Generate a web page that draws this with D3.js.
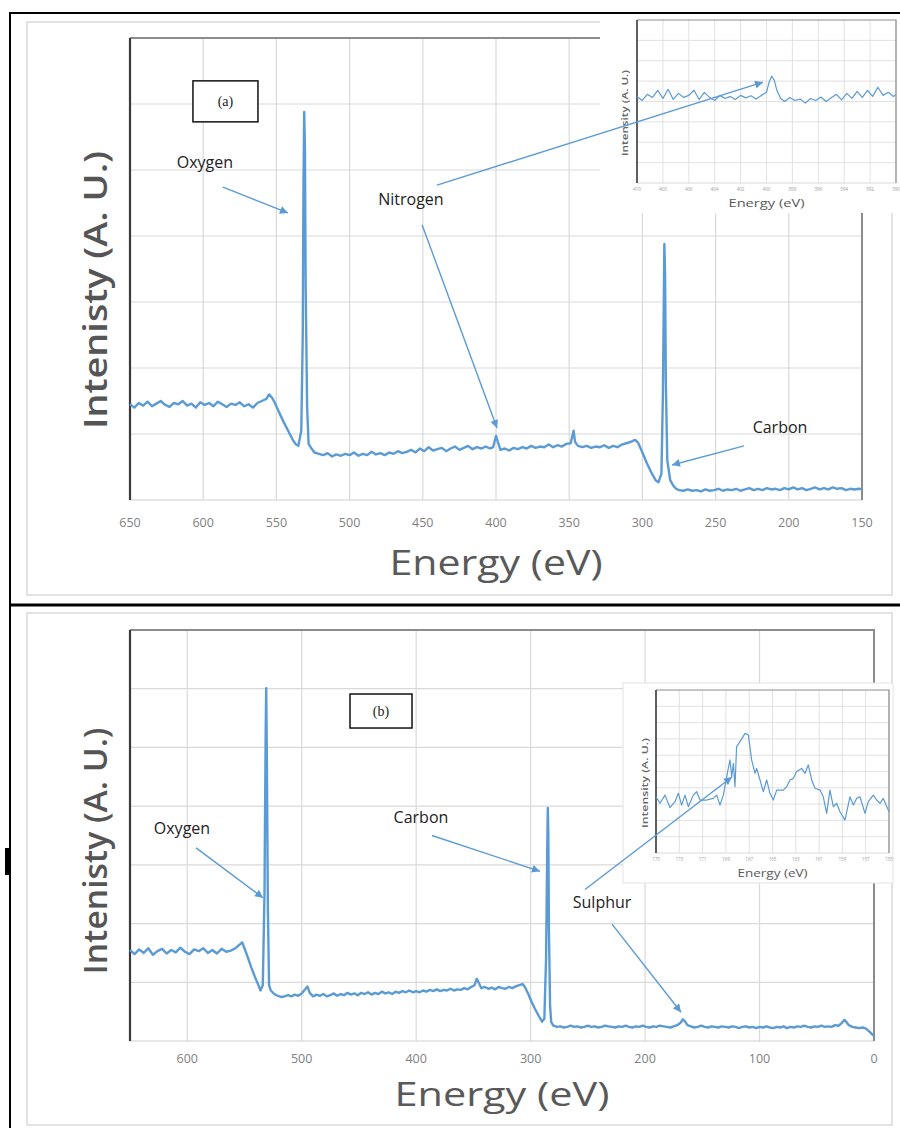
<!DOCTYPE html>
<html>
<head>
<meta charset="utf-8">
<script src="https://cdn.jsdelivr.net/npm/d3@7"></script>
<style>
  body { margin: 0; background: #fff; }
  svg { display: block; font-family: "Open Sans", "DejaVu Sans", sans-serif; }
</style>
</head>
<body>
<div id="chart"></div>
<script>
// survey spectrum (a): [binding energy (eV), intensity (a.u.)]
const spectrumA = [
  [650,1.45],[647,1.40],[644,1.47],[641,1.43],[638,1.49],[635,1.42],[632,1.46],[629,1.50],[626,1.44],[623,1.41],
  [620,1.47],[617,1.45],[614,1.50],[611,1.43],[608,1.46],[605,1.40],[602,1.48],[599,1.44],[596,1.47],[593,1.42],
  [590,1.49],[587,1.45],[584,1.41],[581,1.46],[578,1.44],[575,1.48],[572,1.42],[569,1.45],[566,1.40],[563,1.47],
  [560,1.50],[557,1.53],[555,1.60],[553,1.55],[551,1.47],[548,1.32],[545,1.18],[542,1.05],[539,0.92],[537,0.85],
  [535,0.82],[533,1.05],[532,2.5],[531.5,4.8],[531,5.88],[530.5,5.3],[530,3.2],[529,1.4],[528,0.85],[526,0.78],
  [524,0.72],[521,0.70],[518,0.68],[515,0.71],[512,0.66],[509,0.69],[506,0.67],[503,0.70],[500,0.68],[497,0.72],
  [494,0.67],[491,0.70],[488,0.68],[485,0.73],[482,0.69],[479,0.71],[476,0.68],[473,0.72],[470,0.70],[467,0.74],
  [464,0.71],[461,0.73],[458,0.76],[455,0.72],[452,0.78],[449,0.74],[446,0.80],[443,0.75],[440,0.77],[437,0.79],
  [434,0.74],[431,0.78],[428,0.81],[425,0.76],[422,0.79],[419,0.82],[416,0.77],[413,0.80],[410,0.78],[407,0.81],
  [404,0.78],[402,0.80],[400,0.97],[399,0.90],[397,0.76],[394,0.78],[391,0.75],[388,0.79],[385,0.77],[382,0.80],
  [379,0.78],[376,0.82],[373,0.79],[370,0.81],[367,0.80],[364,0.84],[361,0.80],[358,0.83],[355,0.81],[352,0.85],
  [349,0.86],[347,1.05],[346,0.88],[344,0.82],[341,0.80],[338,0.82],[335,0.79],[332,0.81],[329,0.80],[326,0.83],
  [323,0.79],[320,0.82],[317,0.80],[314,0.84],[311,0.86],[308,0.88],[305,0.91],[303,0.87],[300,0.72],[297,0.56],
  [294,0.42],[291,0.30],[289,0.27],[287,0.40],[286,1.6],[285,3.88],[284.5,3.4],[284,1.8],[283,0.6],[282,0.45],
  [281,0.30],[279,0.22],[277,0.17],[275,0.15],[272,0.14],[269,0.16],[266,0.14],[263,0.15],[260,0.13],[257,0.16],
  [254,0.14],[251,0.15],[248,0.17],[245,0.14],[242,0.16],[239,0.15],[236,0.17],[233,0.14],[230,0.16],[227,0.18],
  [224,0.15],[221,0.17],[218,0.15],[215,0.18],[212,0.16],[209,0.17],[206,0.15],[203,0.18],[200,0.16],[197,0.19],
  [194,0.16],[191,0.18],[188,0.15],[185,0.17],[182,0.19],[179,0.16],[176,0.18],[173,0.16],[170,0.19],[167,0.17],
  [164,0.18],[161,0.15],[158,0.17],[155,0.16],[152,0.17],[150,0.16]
];

// survey spectrum (b)
const spectrumB = [
  [650,1.55],[646,1.48],[642,1.56],[638,1.50],[634,1.58],[630,1.47],[626,1.53],[622,1.57],[618,1.49],[614,1.55],
  [610,1.51],[606,1.59],[602,1.52],[598,1.48],[594,1.56],[590,1.53],[586,1.58],[582,1.50],[578,1.55],[574,1.49],
  [570,1.57],[566,1.52],[562,1.54],[558,1.58],[555,1.63],[552,1.68],[550,1.58],[547,1.42],[544,1.25],[541,1.10],
  [538,0.96],[536,0.86],[534,0.95],[532.5,2.5],[531.5,5.2],[531,6.01],[530.5,5.0],[529.5,2.2],[528.5,0.95],[527,0.86],
  [524,0.80],[521,0.77],[518,0.75],[515,0.76],[512,0.78],[509,0.76],[506,0.79],[503,0.77],[500,0.81],[497,0.88],
  [495,0.93],[493,0.82],[490,0.76],[487,0.79],[484,0.77],[481,0.80],[478,0.76],[475,0.78],[472,0.81],[469,0.77],
  [466,0.80],[463,0.78],[460,0.82],[457,0.79],[454,0.81],[451,0.78],[448,0.82],[445,0.80],[442,0.83],[439,0.79],
  [436,0.82],[433,0.80],[430,0.84],[427,0.81],[424,0.83],[421,0.80],[418,0.84],[415,0.82],[412,0.85],[409,0.83],
  [406,0.86],[403,0.83],[400,0.85],[397,0.83],[394,0.86],[391,0.84],[388,0.87],[385,0.85],[382,0.88],[379,0.85],
  [376,0.87],[373,0.86],[370,0.89],[367,0.86],[364,0.88],[361,0.87],[358,0.90],[355,0.88],[352,0.92],[349,0.95],
  [347,1.06],[345,0.98],[343,0.90],[340,0.92],[337,0.89],[334,0.91],[331,0.88],[328,0.92],[325,0.90],[322,0.89],
  [319,0.92],[316,0.90],[313,0.93],[310,0.95],[307,0.97],[305,0.92],[302,0.80],[299,0.66],[296,0.54],[293,0.43],
  [290,0.33],[288,0.38],[286.5,1.4],[285.5,3.2],[285,3.97],[284.5,3.5],[284,1.9],[283,0.6],[282,0.32],[280,0.26],
  [277,0.24],[274,0.25],[271,0.23],[268,0.24],[265,0.26],[262,0.24],[259,0.25],[256,0.23],[253,0.24],[250,0.26],
  [247,0.24],[244,0.25],[241,0.23],[238,0.24],[235,0.26],[232,0.25],[229,0.24],[226,0.23],[223,0.25],[220,0.24],
  [217,0.26],[214,0.24],[211,0.23],[208,0.25],[205,0.24],[202,0.26],[199,0.24],[196,0.23],[193,0.25],[190,0.24],
  [187,0.26],[184,0.25],[181,0.24],[178,0.23],[175,0.25],[172,0.27],[169,0.31],[167,0.37],[165,0.33],[163,0.27],
  [160,0.25],[157,0.23],[154,0.24],[151,0.26],[148,0.24],[145,0.23],[142,0.25],[139,0.24],[136,0.23],[133,0.25],
  [130,0.24],[127,0.23],[124,0.25],[121,0.24],[118,0.22],[115,0.24],[112,0.25],[109,0.23],[106,0.24],[103,0.22],
  [100,0.24],[97,0.23],[94,0.25],[91,0.23],[88,0.22],[85,0.24],[82,0.23],[79,0.25],[76,0.22],[73,0.24],
  [70,0.23],[67,0.25],[64,0.24],[61,0.26],[58,0.24],[55,0.23],[52,0.25],[49,0.24],[46,0.26],[43,0.24],
  [40,0.25],[37,0.24],[34,0.27],[31,0.26],[28,0.31],[26,0.36],[24,0.32],[22,0.27],[19,0.24],[16,0.23],
  [13,0.22],[10,0.23],[7,0.21],[4,0.16],[2,0.12],[0,0.09]
];

// N 1s region inset for (a)
const insetA = [
  [410.0,4.25],[409.6,4.05],[409.2,4.35],[408.8,4.20],[408.4,4.55],[408.0,4.15],[407.6,4.60],[407.2,4.10],
  [406.8,4.40],[406.4,4.20],[406.0,4.30],[405.6,4.55],[405.2,4.10],[404.8,4.45],[404.4,4.20],[404.0,4.05],
  [403.6,4.30],[403.2,4.15],[402.8,4.25],[402.4,4.10],[402.0,4.30],[401.6,4.18],[401.2,4.28],[400.8,4.12],
  [400.4,4.30],[400.0,4.45],[399.8,4.95],[399.6,5.24],[399.4,5.05],[399.2,4.55],[398.9,4.15],[398.6,4.00],
  [398.2,4.20],[397.8,4.05],[397.4,4.12],[397.0,3.92],[396.6,4.15],[396.2,4.05],[395.8,4.22],[395.4,4.00],
  [395.0,4.18],[394.6,4.35],[394.2,4.08],[393.8,4.40],[393.4,4.15],[393.0,4.50],[392.6,4.20],[392.2,4.55],
  [391.8,4.25],[391.4,4.70],[391.0,4.30],[390.6,4.45],[390.2,4.25],[390.0,4.35]
];

// S 2p region inset for (b)
const insetB = [
  [175.0,3.45],[174.66,3.05],[174.23,3.55],[173.80,2.79],[173.37,3.15],[173.08,3.66],[172.80,2.94],[172.51,3.55],
  [172.22,2.84],[171.80,3.55],[171.51,3.76],[171.22,3.25],[170.65,3.25],[170.08,3.35],[169.79,3.55],[169.51,2.94],
  [169.22,3.55],[168.93,4.68],[168.65,5.71],[168.50,4.68],[168.36,5.50],[168.22,4.07],[168.08,6.53],[167.79,6.83],
  [167.36,7.34],[167.07,7.24],[166.79,5.71],[166.50,4.89],[166.36,5.19],[166.07,4.48],[165.79,3.76],[165.50,4.48],
  [165.22,3.66],[164.93,3.25],[164.64,3.86],[164.07,3.86],[163.78,4.07],[163.50,4.48],[163.21,4.58],[162.93,5.00],
  [162.50,5.19],[162.21,4.89],[161.93,5.40],[161.64,4.48],[161.35,3.97],[160.92,3.86],[160.64,3.45],[160.35,2.43],
  [160.07,3.86],[159.78,2.84],[159.49,3.05],[159.21,2.53],[158.78,2.02],[158.35,3.45],[158.06,2.94],[157.78,3.35],
  [157.49,3.45],[157.06,2.43],[156.78,3.15],[156.35,3.55],[156.06,3.25],[155.77,3.05],[155.49,3.35],[155.0,2.53]
];

const ticksA = [650, 600, 550, 500, 450, 400, 350, 300, 250, 200, 150];
const ticksB = [600, 500, 400, 300, 200, 100, 0];
const insetTicksA = [410, 408, 406, 404, 402, 400, 398, 396, 394, 392, 390];
const insetTicksB = [175, 173, 171, 169, 167, 165, 163, 161, 159, 157, 155];

const blue = "#5b9bd5";
const W = 900, H = 1128;

const svg = d3.select("#chart").append("svg")
  .attr("width", W).attr("height", H);

svg.append("rect").attr("width", W).attr("height", H).attr("fill", "#fff");

const defs = svg.append("defs");
defs.append("marker")
  .attr("id", "head")
  .attr("viewBox", "0 0 10 10")
  .attr("refX", 10).attr("refY", 5)
  .attr("markerWidth", 9).attr("markerHeight", 8)
  .attr("markerUnits", "userSpaceOnUse")
  .attr("orient", "auto")
  .append("path").attr("d", "M0,0 L10,5 L0,10 z").attr("fill", blue);

// light chart-area frames
svg.append("rect").attr("x", 27).attr("y", 22).attr("width", 865).attr("height", 573)
  .attr("fill", "none").attr("stroke", "#d9d9d9").attr("stroke-width", 1.5);
svg.append("rect").attr("x", 27).attr("y", 613).attr("width", 865).attr("height", 512)
  .attr("fill", "none").attr("stroke", "#d9d9d9").attr("stroke-width", 1.5);

// draws one plot; returns its scales
function drawPlot(g, c) {
  const x = d3.scaleLinear().domain(c.xDomain).range([c.left, c.right]);
  const y = d3.scaleLinear().domain([0, c.yMax]).range([c.bottom, c.top]);

  // grid
  g.append("g").selectAll("line").data(d3.range(1, c.yMax))
    .join("line")
    .attr("x1", c.left).attr("x2", c.right)
    .attr("y1", d => y(d)).attr("y2", d => y(d))
    .attr("stroke", "#d9d9d9").attr("stroke-width", c.gridW);
  g.append("g").selectAll("line").data(c.grid)
    .join("line")
    .attr("x1", d => x(d)).attr("x2", d => x(d))
    .attr("y1", c.top).attr("y2", c.bottom)
    .attr("stroke", "#d9d9d9").attr("stroke-width", c.gridW);

  // plot-area border
  g.append("line").attr("x1", c.left).attr("x2", c.right).attr("y1", c.bottom).attr("y2", c.bottom)
    .attr("stroke", "#d0d0d0").attr("stroke-width", c.gridW);
  g.append("path")
    .attr("d", `M${c.left},${c.top}H${c.right}V${c.bottom}`)
    .attr("fill", "none").attr("stroke", "#8c8c8c").attr("stroke-width", c.borderW);
  g.append("line").attr("x1", c.left).attr("x2", c.left).attr("y1", c.top).attr("y2", c.bottom)
    .attr("stroke", "#3a3a3a").attr("stroke-width", c.axisW);

  // spectrum
  g.append("path").datum(c.data)
    .attr("d", d3.line().x(d => x(d[0])).y(d => y(d[1])))
    .attr("fill", "none").attr("stroke", blue)
    .attr("stroke-width", c.lineW).attr("stroke-linejoin", "round");

  // tick labels
  g.append("g").selectAll("text").data(c.ticks)
    .join("text")
    .attr("x", d => x(d)).attr("y", c.bottom + c.tickGap)
    .attr("text-anchor", "middle")
    .attr("font-size", c.tickSize).attr("fill", c.tickColor)
    .text(d => d);

  // axis titles
  g.append("text")
    .attr("x", (c.left + c.right) / 2).attr("y", c.xtY)
    .attr("text-anchor", "middle").attr("font-size", c.xtSize).attr("fill", "#595959")
    .attr("textLength", c.xtLen).attr("lengthAdjust", "spacingAndGlyphs")
    .text("Energy (eV)");
  g.append("text")
    .attr("transform", `translate(${c.ytX},${c.ytY}) rotate(-90)`)
    .attr("text-anchor", "middle").attr("font-size", c.ytSize)
    .attr("font-weight", c.ytWeight).attr("fill", c.ytColor)
    .attr("textLength", c.ytLen).attr("lengthAdjust", "spacingAndGlyphs")
    .text(c.yTitle);

  return { x, y };
}

const mainStyle = {
  gridW: 1.2, borderW: 2, axisW: 2.2, lineW: 2.4,
  tickSize: 12.5, tickColor: "#7f7f7f", tickGap: 27,
  xtSize: 34, ytSize: 33, ytWeight: 600, ytColor: "#555"
};

const pa = drawPlot(svg.append("g"), Object.assign({}, mainStyle, {
  left: 130, right: 862, top: 38, bottom: 500,
  xDomain: [650, 150], yMax: 7, grid: ticksA, ticks: ticksA, data: spectrumA,
  xtY: 575, xtLen: 213, ytX: 107, ytY: 290, ytLen: 278, yTitle: "Intenisty (A. U.)"
}));

const pb = drawPlot(svg.append("g"), Object.assign({}, mainStyle, {
  left: 130, right: 874, top: 630, bottom: 1041, tickGap: 22,
  xDomain: [650, 0], yMax: 7, grid: ticksB, ticks: ticksB, data: spectrumB,
  xtY: 1106, xtSize: 33, xtLen: 215, ytX: 107, ytY: 851, ytLen: 247, yTitle: "Intenisty (A. U.)"
}));

// insets
const insetStyle = {
  gridW: 0.8, borderW: 1.2, axisW: 1.6, lineW: 1.2,
  tickSize: 4.5, tickColor: "#9a9a9a", tickGap: 8,
  xtSize: 10.5, ytSize: 9, ytWeight: 600, ytColor: "#666"
};

svg.append("rect").attr("x", 600).attr("y", 15).attr("width", 300).attr("height", 198).attr("fill", "#fff");
const ia = drawPlot(svg.append("g"), Object.assign({}, insetStyle, {
  left: 637, right: 896, top: 20, bottom: 183,
  xDomain: [410, 390], yMax: 8, grid: insetTicksA, ticks: insetTicksA, data: insetA,
  xtY: 207, xtLen: 76, ytX: 628, ytY: 113, ytLen: 86, yTitle: "Intensity (A. U.)"
}));

svg.append("rect").attr("x", 623).attr("y", 683).attr("width", 270).attr("height", 200)
  .attr("fill", "#fff").attr("stroke", "#e3e3e3").attr("stroke-width", 1);
const ib = drawPlot(svg.append("g"), Object.assign({}, insetStyle, {
  left: 656, right: 889, top: 690, bottom: 853,
  xDomain: [175, 155], yMax: 10, grid: insetTicksB, ticks: insetTicksB, data: insetB,
  xtY: 877, xtLen: 70, ytX: 648, ytY: 783, ytLen: 90, yTitle: "Intensity (A. U.)"
}));

// annotations
const ann = svg.append("g").attr("font-size", 16).attr("fill", "#222");

function label(s, e, v, t) {
  ann.append("text").attr("x", s.x(e)).attr("y", s.y(v))
    .attr("text-anchor", "middle").text(t);
}
function arrow(x1, y1, x2, y2) {
  ann.append("line")
    .attr("x1", x1).attr("y1", y1).attr("x2", x2).attr("y2", y2)
    .attr("stroke", blue).attr("stroke-width", 1.4)
    .attr("marker-end", "url(#head)");
}
function tag(s, e, v, w, h, t) {
  const cx = s.x(e), cy = s.y(v);
  ann.append("rect").attr("x", cx - w / 2).attr("y", cy - h / 2).attr("width", w).attr("height", h)
    .attr("fill", "#fff").attr("stroke", "#111").attr("stroke-width", 1.5);
  ann.append("text").attr("x", cx).attr("y", cy + 5).attr("text-anchor", "middle")
    .attr("font-family", "'Liberation Serif', serif").attr("font-size", 14).text(t);
}

// panel (a)
tag(pa, 584.8, 6.04, 65, 41, "(a)");
label(pa, 598.8, 5.03, "Oxygen");
arrow(pa.x(586.5), pa.y(4.74), pa.x(542.1), pa.y(4.35));
label(pa, 458.1, 4.47, "Nitrogen");
arrow(pa.x(450.5), pa.y(4.17), pa.x(399.3), pa.y(1.09));
arrow(pa.x(440.3), pa.y(4.77), ia.x(400.27), ia.y(4.95));
label(pa, 206, 1.02, "Carbon");
arrow(pa.x(230.6), pa.y(0.82), pa.x(279.8), pa.y(0.53));

// panel (b)
tag(pb, 430.7, 5.62, 62, 34, "(b)");
label(pb, 604.6, 3.53, "Oxygen");
arrow(pb.x(592.3), pb.y(3.29), pb.x(533.8), pb.y(2.44));
label(pb, 395.8, 3.72, "Carbon");
arrow(pb.x(386.2), pb.y(3.50), pb.x(291.8), pb.y(2.89));
label(pb, 237.6, 2.26, "Sulphur");
arrow(pb.x(228.9), pb.y(1.99), pb.x(168.6), pb.y(0.49));
arrow(pb.x(252.5), pb.y(2.58), ib.x(168.48), ib.y(4.66));

// black page frame
const frame = svg.append("g").attr("stroke", "#000").attr("fill", "none");
frame.append("path").attr("d", "M10,1128V13H900").attr("stroke-width", 2);
frame.append("line").attr("x1", 10).attr("x2", 900).attr("y1", 605).attr("y2", 605).attr("stroke-width", 3);
svg.append("rect").attr("x", 5).attr("y", 848).attr("width", 5).attr("height", 27).attr("fill", "#000");
</script>
</body>
</html>
